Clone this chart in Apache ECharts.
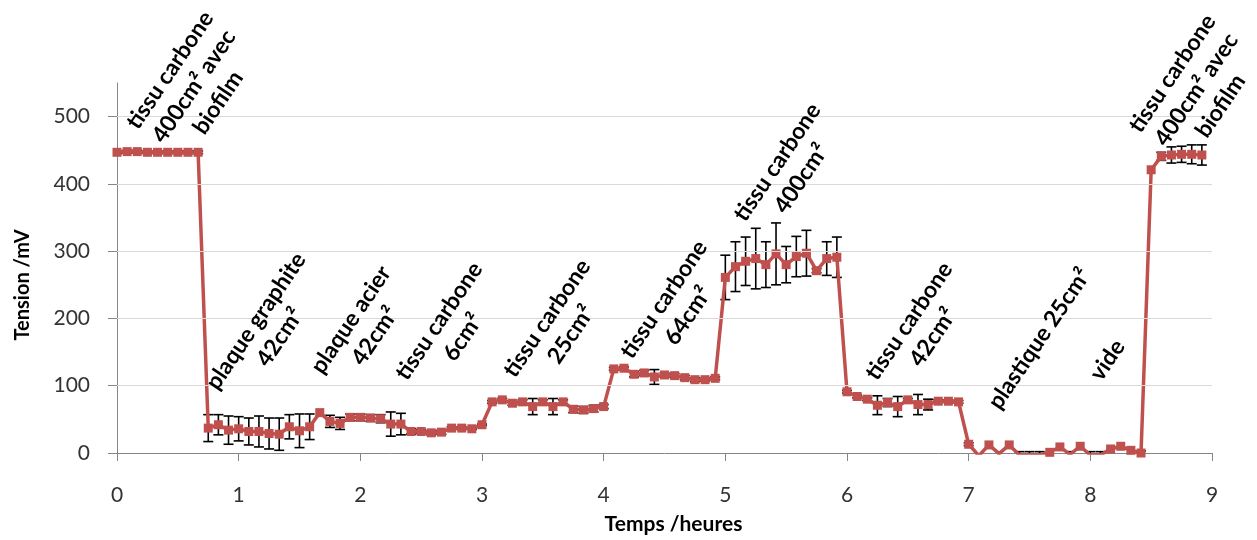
<!DOCTYPE html>
<html>
<head>
<meta charset="utf-8">
<script src="https://cdn.jsdelivr.net/npm/echarts@6/dist/echarts.min.js"></script>
<style>
html,body{margin:0;padding:0;background:#fff;}
#chart{width:1257px;height:540px;}
</style>
</head>
<body>
<div id="chart"></div>
<script>
// Time of each measurement (minutes)
const timesMin = [
  0,5,10,15,20,25,30,35,40,45,50,55,60,65,70,75,80,85,90,95,
  100,105,110,115,120,125,130,135,140,145,150,155,160,165,170,175,180,185,190,195,
  200,205,210,215,220,225,230,235,240,245,250,255,260,265,270,275,280,285,290,295,
  300,305,310,315,320,325,330,335,340,345,350,355,360,365,370,375,380,385,390,395,
  400,405,410,415,420,425,430,435,440,445,450,455,460,465,470,475,480,485,490,495,
  500,505,510,515,520,525,530,535
];
// Tension (mV)
const tension = [
  447,448,448,447,447,447,447,447,447,37,42,34,36,32,32,29,28,39,33,39,
  60,47,44,53,53,52,51,43,43,32,32,30,31,37,37,36,42,76,79,74,
  76,69,76,69,76,65,64,66,69,125,126,117,119,113,116,115,112,109,109,111,
  261,277,285,289,280,296,280,292,297,271,289,291,91,84,80,71,75,69,79,72,
  72,77,77,76,13,-4,12,-1,12,-3,-3,-3,1,9,-2,10,-3,-3,6,10,
  4,0,421,441,443,444,444,443
];
// Error bar half-height (mV)
const errors = [
  2,2,2,2,2,2,2,2,2,20,15,21,18,20,23,23,24,18,25,19,
  0,9,9,5,5,5,6,18,16,4,3,3,3,2,2,1,1,2,2,3,
  3,12,3,12,3,5,5,5,3,2,2,4,4,11,3,3,3,3,2,2,
  33,37,36,45,34,46,27,30,34,3,25,30,2,2,2,14,6,15,2,15,
  8,2,2,2,2,0,0,0,0,5,5,5,0,0,4,0,5,5,0,0,
  0,3,0,6,12,12,14,15
];
const xTicks = [0,1,2,3,4,5,6,7,8,9];
const yTicks = [0,100,200,300,400,500];
// Annotation texts and their anchor (hours, mV)
const annotationTexts = [
  'tissu carbone\n400cm² avec\nbiofilm',
  'plaque graphite\n42cm²',
  'plaque acier\n42cm²',
  'tissu carbone\n6cm²',
  'tissu carbone\n25cm²',
  'tissu carbone\n64cm²',
  'tissu carbone\n400cm²',
  'tissu carbone\n42cm²',
  'plastique 25cm²',
  'vide',
  'tissu carbone\n400cm² avec\nbiofilm'
];
const annotationHours = [0.633,1.241,2.022,2.745,3.633,4.594,5.526,6.608,7.582,8.141,8.872];
const annotationMv = [545,184,186,184,188,216,420,184,170,138,540];

const hours = timesMin.map(m => m / 60);
const lineData = hours.map((h, i) => [h, tension[i]]);
const errData = hours.map((h, i) => [h, tension[i], errors[i]]);
const annData = annotationTexts.map((t, i) => [annotationHours[i], annotationMv[i], i]);

const chart = echarts.init(document.getElementById('chart'), null, {renderer: 'canvas'});
const FONT = 'Lato, "Liberation Sans", sans-serif';
const ROT = 56 * Math.PI / 180;

chart.setOption({
  animation: false,
  backgroundColor: '#ffffff',
  grid: {left: 117, right: 45, top: 83, bottom: 87, containLabel: false},
  xAxis: {
    type: 'value', min: 0, max: 9, interval: 1,
    name: 'Temps /heures', nameLocation: 'middle', nameGap: 61,
    nameTextStyle: {fontFamily: FONT, fontWeight: 'bold', fontSize: 21, color: '#000', padding: [0, 0, 0, 18]},
    axisLine: {show: true, lineStyle: {color: '#868686', width: 1}},
    axisTick: {show: true, inside: false, length: 8, lineStyle: {color: '#868686'}},
    axisLabel: {fontFamily: FONT, fontSize: 21, color: '#333', margin: 32,
      customValues: xTicks},
    splitLine: {show: false}
  },
  yAxis: {
    type: 'value', min: 0, max: 550, interval: 100,
    name: 'Tension /mV', nameLocation: 'middle', nameGap: 84, nameRotate: 90,
    nameTextStyle: {fontFamily: FONT, fontWeight: 'bold', fontSize: 20, color: '#000', padding: [0, 34, 0, 0]},
    axisLine: {show: true, lineStyle: {color: '#868686', width: 1}},
    axisTick: {show: true, inside: false, length: 9, lineStyle: {color: '#868686'}, customValues: yTicks},
    axisLabel: {fontFamily: FONT, fontSize: 21, color: '#333', margin: 27, customValues: yTicks},
    splitLine: {show: false}
  },
  series: [
    {
      type: 'custom',
      name: 'errors',
      data: errData,
      clip: true,
      z: 2,
      markLine: {
        silent: true,
        symbol: ['none', 'none'],
        label: {show: false},
        animation: false,
        lineStyle: {color: '#D9D9D9', type: 'solid', width: 1},
        emphasis: {disabled: true},
        data: yTicks.filter(v => v > 0).map(v => ({yAxis: v}))
      },
      renderItem: function (params, api) {
        const t = api.value(0), v = api.value(1), e = api.value(2);
        if (!(e > 0)) return null;
        const top = api.coord([t, v + e]);
        const bot = api.coord([t, v - e]);
        const w = 5;
        const st = {stroke: '#000', lineWidth: 1.6};
        return {
          type: 'group',
          children: [
            {type: 'line', shape: {x1: top[0], y1: top[1], x2: bot[0], y2: bot[1]}, style: st},
            {type: 'line', shape: {x1: top[0] - w, y1: top[1], x2: top[0] + w, y2: top[1]}, style: st},
            {type: 'line', shape: {x1: bot[0] - w, y1: bot[1], x2: bot[0] + w, y2: bot[1]}, style: st}
          ]
        };
      }
    },
    {
      type: 'line',
      name: 'Tension',
      data: lineData,
      clip: true,
      z: 3,
      symbol: 'rect',
      symbolSize: 9,
      showAllSymbol: true,
      itemStyle: {color: '#C0504D'},
      lineStyle: {color: '#C0504D', width: 3.5}
    },
    {
      type: 'custom',
      name: 'labels',
      data: annData,
      clip: false,
      z: 5,
      silent: true,
      renderItem: function (params, api) {
        const p = api.coord([api.value(0), api.value(1)]);
        const idx = api.value(2);
        return {
          type: 'text',
          x: p[0], y: p[1],
          rotation: ROT,
          style: {
            text: annotationTexts[idx],
            fontFamily: 'Lato, "Liberation Sans", sans-serif',
            fontWeight: 'bold',
            fontSize: 23,
            lineHeight: 29,
            align: 'center', textAlign: 'center',
            verticalAlign: 'middle', textVerticalAlign: 'middle',
            fill: '#000'
          }
        };
      }
    }
  ]
});
</script>
</body>
</html>
